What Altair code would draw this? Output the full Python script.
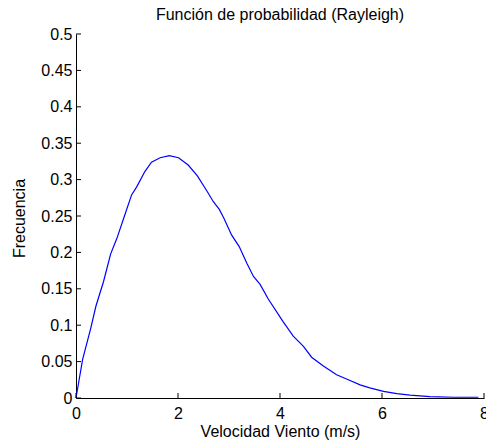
import altair as alt
import pandas as pd

# Values
speed = [0.0, 0.13, 0.29, 0.39, 0.54, 0.68, 0.80, 0.96, 1.09, 1.19, 1.35, 1.48,
         1.65, 1.83, 2.01, 2.20, 2.38, 2.57, 2.69, 2.81, 2.90, 3.05, 3.20, 3.35,
         3.48, 3.61, 3.77, 4.06, 4.26, 4.46, 4.62, 4.85, 5.11, 5.34, 5.57, 5.76,
         6.03, 6.29, 6.55, 6.94, 7.40, 7.89]
freq = [0.0, 0.053, 0.096, 0.126, 0.160, 0.198, 0.219, 0.252, 0.279, 0.290, 0.311, 0.324,
        0.330, 0.333, 0.330, 0.320, 0.305, 0.284, 0.270, 0.259, 0.247, 0.224, 0.208, 0.185,
        0.167, 0.156, 0.136, 0.105, 0.085, 0.071, 0.056, 0.044, 0.032, 0.025, 0.018, 0.014,
        0.009, 0.006, 0.004, 0.002, 0.001, 0.001]

x_ticks = [0, 2, 4, 6, 8]
y_ticks = [0, 0.05, 0.1, 0.15, 0.2, 0.25, 0.3, 0.35, 0.4, 0.45, 0.5]

title_text = "Función de probabilidad (Rayleigh)"
x_title = "Velocidad Viento (m/s)"
y_title = "Frecuencia"

FONT = "Liberation Sans"
FS = 16

df = pd.DataFrame({"speed": speed, "freq": freq})
xtick_df = pd.DataFrame({"speed": x_ticks, "freq": [y_ticks[0]] * len(x_ticks)})
ytick_df = pd.DataFrame({"speed": [x_ticks[0]] * len(y_ticks), "freq": y_ticks})

xs = alt.Scale(domain=[0, 8], nice=False, zero=False)
ys = alt.Scale(domain=[0, 0.5], nice=False, zero=False)

x_axis = alt.Axis(values=x_ticks, title=x_title, ticks=False, labelPadding=7, grid=False,
                  titleY=38.7, titleBaseline="alphabetic", labelFlush=False,
                  domainColor="black", labelColor="black", titleColor="black",
                  labelFont=FONT, labelFontSize=FS, titleFont=FONT, titleFontSize=FS,
                  titleFontWeight="normal")
y_axis = alt.Axis(values=y_ticks, format="~g", title=y_title, ticks=False, grid=False,
                  labelPadding=4, titleX=-52, titleY=184, titleAngle=-90,
                  titleBaseline="alphabetic", labelFlush=False,
                  domainColor="black", labelColor="black", titleColor="black",
                  labelFont=FONT, labelFontSize=FS, titleFont=FONT, titleFontSize=FS,
                  titleFontWeight="normal")

enc = dict(
    x=alt.X("speed:Q", scale=xs, axis=x_axis),
    y=alt.Y("freq:Q", scale=ys, axis=y_axis),
)

line = alt.Chart(df).mark_line(color="#0000ff", strokeWidth=1.2, clip=False).encode(**enc)

xt = alt.Chart(xtick_df).mark_tick(
    orient="vertical", size=5, thickness=1, color="black", yOffset=-2.5, opacity=1
).encode(**enc)

yt = alt.Chart(ytick_df).mark_tick(
    orient="horizontal", size=5, thickness=1, color="black", xOffset=2.5, opacity=1
).encode(**enc)

chart = alt.layer(line, xt, yt).properties(
    width=408,
    height=364,
    background="white",
    title=alt.TitleParams(title_text, anchor="middle", baseline="alphabetic", offset=0, dy=10,
                          font=FONT, fontSize=FS, fontWeight="normal", color="black"),
    autosize=alt.AutoSizeParams(type="none"),
    padding={"left": 76, "top": 34, "right": 2, "bottom": 45},
).configure_view(strokeWidth=0, stroke="transparent")

chart.save("out.html", embed_options={"renderer": "svg", "actions": False})
